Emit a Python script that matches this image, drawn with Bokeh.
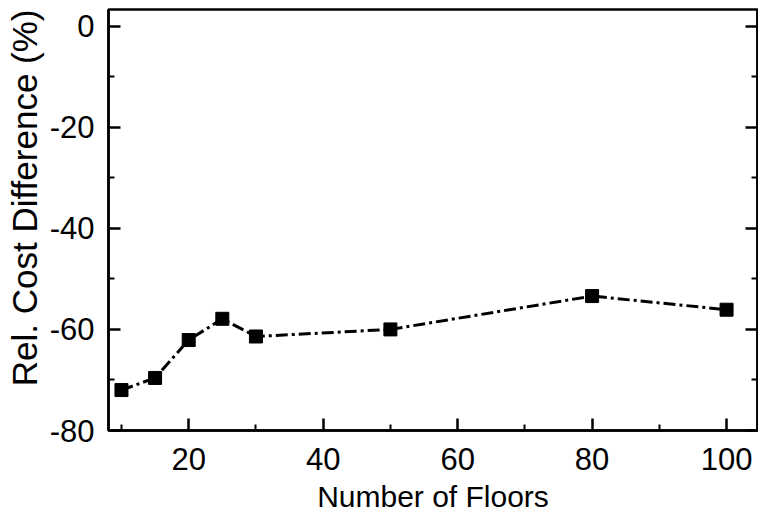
from bokeh.plotting import figure
from bokeh.models import Range1d, FixedTicker, LinearAxis, Title
from bokeh.embed import file_html
from bokeh.resources import INLINE

floors = [10, 15, 20, 25, 30, 50, 80, 100]
cost_diff = [-72.0, -69.6, -62.1, -57.9, -61.4, -60.0, -53.4, -56.1]
x_ticks = [20, 40, 60, 80, 100]
x_minor = [10, 30, 50, 70, 90]
y_ticks = [-80, -60, -40, -20, 0]
y_minor = [-70, -50, -30, -10]

FONT = "Liberation Sans"
TICK_SIZE = "31px"

p = figure(frame_width=649, frame_height=421, output_backend="svg", toolbar_location=None,
           x_range=Range1d(8.07, 104.6), y_range=Range1d(-80, 3.3),
           min_border_left=99, min_border_right=2, min_border_top=9, min_border_bottom=85)
p.grid.visible = False
p.outline_line_color = "black"
p.outline_line_width = 2.5
p.background_fill_color = "white"
p.border_fill_color = "white"

p.line(floors, cost_diff, line_dash="12 4 3 4", line_width=3, color="black")
p.scatter(floors, cost_diff, marker="square", size=13, color="black")

def style(ax):
    ax.axis_line_width = 2.5
    ax.axis_line_color = "black"
    ax.major_tick_in = 12
    ax.major_tick_out = 0
    ax.minor_tick_in = 6
    ax.minor_tick_out = 0
    ax.major_tick_line_width = 2.5
    ax.minor_tick_line_width = 2
    ax.major_label_text_font = FONT
    ax.major_label_text_font_size = TICK_SIZE
    ax.major_label_text_color = "black"
    ax.axis_label_text_color = "black"
    ax.axis_label_text_font_style = "normal"

xa = p.xaxis[0]
xa.ticker = FixedTicker(ticks=x_ticks, minor_ticks=x_minor)
style(xa)
xa.axis_label = "Number of Floors"
xa.axis_label_text_font = FONT
xa.axis_label_text_font_size = "30px"
xa.major_label_standoff = 17
xa.axis_label_standoff = 7

ya = p.yaxis[0]
ya.ticker = FixedTicker(ticks=y_ticks, minor_ticks=y_minor)
style(ya)
ya.major_label_overrides = {v: str(v) for v in y_ticks}
ya.major_label_standoff = 14

ytitle = Title(text="Rel. Cost Difference (%)", align="right", offset=0,
               text_font=FONT, text_font_size="35px", text_font_style="normal",
               text_color="black", standoff=5)
p.add_layout(ytitle, "left")

ra = LinearAxis(ticker=FixedTicker(ticks=y_ticks, minor_ticks=y_minor))
style(ra)
ra.major_label_overrides = {v: "" for v in y_ticks}
ra.major_label_standoff = 0
p.add_layout(ra, "right")

open("out.html", "w").write(file_html(p, INLINE))
